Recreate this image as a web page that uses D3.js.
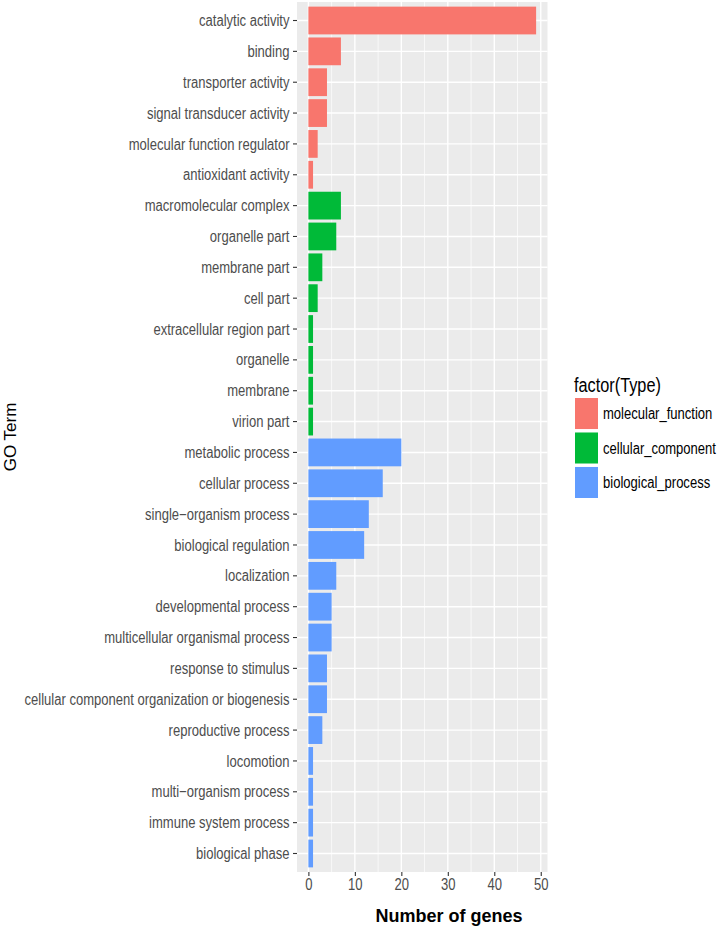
<!DOCTYPE html>
<html>
<head>
<meta charset="utf-8">
<script src="https://cdn.jsdelivr.net/npm/d3@7"></script>
<style>
  body { margin: 0; background: #fff; }
  svg { display: block; }
  text { font-family: "Liberation Sans", Arial, Helvetica, sans-serif; }
</style>
</head>
<body>
<svg id="chart" width="717" height="931"></svg>
<script>
// ---- data ----
const categories = [
  "catalytic activity", "binding", "transporter activity", "signal transducer activity",
  "molecular function regulator", "antioxidant activity",
  "macromolecular complex", "organelle part", "membrane part", "cell part",
  "extracellular region part", "organelle", "membrane", "virion part",
  "metabolic process", "cellular process", "single\u2212organism process", "biological regulation",
  "localization", "developmental process", "multicellular organismal process", "response to stimulus",
  "cellular component organization or biogenesis", "reproductive process", "locomotion",
  "multi\u2212organism process", "immune system process", "biological phase"
];
const values = [
  49, 7, 4, 4, 2, 1,
  7, 6, 3, 2, 1, 1, 1, 1,
  20, 16, 13, 12, 6, 5, 5, 4, 4, 3, 1, 1, 1, 1
];
const types = [
  "molecular_function", "molecular_function", "molecular_function", "molecular_function",
  "molecular_function", "molecular_function",
  "cellular_component", "cellular_component", "cellular_component", "cellular_component",
  "cellular_component", "cellular_component", "cellular_component", "cellular_component",
  "biological_process", "biological_process", "biological_process", "biological_process",
  "biological_process", "biological_process", "biological_process", "biological_process",
  "biological_process", "biological_process", "biological_process", "biological_process",
  "biological_process", "biological_process"
];
const typeNames = ["molecular_function", "cellular_component", "biological_process"];
const typeColors = ["#F8766D", "#00BA38", "#619CFF"];
const xTicks = [0, 10, 20, 30, 40, 50];
const xMinor = [5, 15, 25, 35, 45];

const rows = categories.map((c, i) => ({ cat: c, val: values[i], type: types[i] }));

// ---- layout ----
const NARROW = 0.815; // horizontal squeeze to mimic the condensed face of the original
const panel = { left: 297, right: 547.5, top: 2, bottom: 872 };
const svg = d3.select("#chart");

const x = d3.scaleLinear().domain([-2.45, 51.45]).range([panel.left, panel.right]);
const y = d3.scaleBand().domain(categories).range([panel.top, panel.bottom])
  .paddingInner(0.1).paddingOuter(0.15);
const color = d3.scaleOrdinal().domain(typeNames).range(typeColors);

// panel background
svg.append("rect")
  .attr("x", panel.left).attr("y", panel.top)
  .attr("width", panel.right - panel.left).attr("height", panel.bottom - panel.top)
  .attr("fill", "#EBEBEB");

// minor vertical grid
svg.append("g").selectAll("line").data(xMinor).join("line")
  .attr("x1", d => x(d)).attr("x2", d => x(d))
  .attr("y1", panel.top).attr("y2", panel.bottom)
  .attr("stroke", "#fff").attr("stroke-width", 0.7);

// major vertical grid
svg.append("g").selectAll("line").data(xTicks).join("line")
  .attr("x1", d => x(d)).attr("x2", d => x(d))
  .attr("y1", panel.top).attr("y2", panel.bottom)
  .attr("stroke", "#fff").attr("stroke-width", 1.4);

// horizontal grid
svg.append("g").selectAll("line").data(categories).join("line")
  .attr("x1", panel.left).attr("x2", panel.right)
  .attr("y1", d => y(d) + y.bandwidth() / 2).attr("y2", d => y(d) + y.bandwidth() / 2)
  .attr("stroke", "#fff").attr("stroke-width", 1.4);

// bars
svg.append("g").selectAll("rect").data(rows).join("rect")
  .attr("x", x(0))
  .attr("y", d => y(d.cat))
  .attr("width", d => x(d.val) - x(0))
  .attr("height", y.bandwidth())
  .attr("fill", d => color(d.type));

// y axis
const yAxis = d3.axisLeft(y).tickSize(4);
const gy = svg.append("g").attr("transform", `translate(${panel.left},0)`).call(yAxis)
  .attr("font-family", null).attr("font-size", null);
gy.select(".domain").remove();
gy.selectAll(".tick line").attr("stroke", "#333").attr("stroke-width", 1.1);
gy.selectAll(".tick text")
  .attr("x", null).attr("dy", "0.35em")
  .attr("transform", `translate(-7.5,0) scale(${NARROW},1)`)
  .attr("fill", "#4D4D4D").style("font-size", "16px");

// x axis
const xAxis = d3.axisBottom(x).tickValues(xTicks).tickSize(4).tickPadding(3);
const gx = svg.append("g").attr("transform", `translate(0,${panel.bottom})`).call(xAxis)
  .attr("font-family", null).attr("font-size", null);
gx.select(".domain").remove();
gx.selectAll(".tick line").attr("stroke", "#333").attr("stroke-width", 1.1);
gx.selectAll(".tick text")
  .attr("transform", `scale(${NARROW},1)`)
  .attr("fill", "#4D4D4D").style("font-size", "16px");

// axis titles
svg.append("text")
  .attr("x", 449).attr("y", 922)
  .attr("text-anchor", "middle")
  .style("font-size", "18px").style("font-weight", "bold")
  .attr("fill", "#000")
  .text("Number of genes");

svg.append("text")
  .attr("transform", `translate(16,${(panel.top + panel.bottom) / 2}) rotate(-90)`)
  .attr("text-anchor", "middle")
  .style("font-size", "17px")
  .attr("fill", "#000")
  .text("GO Term");

// legend
const lg = svg.append("g");
lg.append("text")
  .attr("transform", `translate(574,392) scale(${NARROW},1)`)
  .style("font-size", "20px").attr("fill", "#000")
  .text("factor(Type)");

const keyY = d3.scaleBand().domain(typeNames).range([398, 498]).paddingInner(0.1).paddingOuter(0);
lg.selectAll("rect.key").data(typeNames).join("rect")
  .attr("class", "key")
  .attr("x", 575).attr("y", d => keyY(d))
  .attr("width", 23).attr("height", keyY.bandwidth())
  .attr("fill", d => color(d));
lg.selectAll("text.lab").data(typeNames).join("text")
  .attr("class", "lab")
  .attr("transform", d => `translate(603,${keyY(d) + keyY.bandwidth() / 2}) scale(${NARROW},1)`)
  .attr("dy", "0.35em")
  .style("font-size", "16px").attr("fill", "#000")
  .text(d => d);
</script>
</body>
</html>
